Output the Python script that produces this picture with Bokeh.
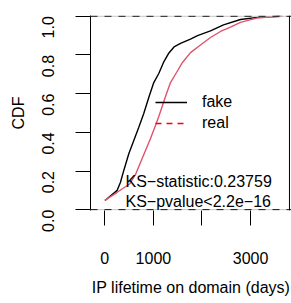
import math
from bokeh.plotting import figure
from bokeh.models import (Range1d, FixedTicker, Span, Legend, LegendItem, Label,
                          PrintfTickFormatter)
from bokeh.embed import file_html
from bokeh.resources import INLINE

# ---- data ----
fake_days = [4, 255, 323, 391, 494, 597, 700, 802, 905, 1008, 1111, 1208, 1311,
             1434, 1558, 1763, 1908, 2175, 2443, 2792, 3142, 3615]
fake_cdf = [0.048, 0.100, 0.142, 0.203, 0.289, 0.358, 0.426, 0.497, 0.580, 0.657,
            0.704, 0.761, 0.807, 0.843, 0.859, 0.882, 0.900, 0.924, 0.955, 0.983,
            0.994, 1.000]

real_days = [0, 255, 515, 632, 735, 838, 941, 1043, 1111, 1167, 1249, 1352, 1476,
             1599, 1764, 1969, 2175, 2381, 2587, 2792, 3143, 3410, 3657]
real_cdf = [0.048, 0.090, 0.134, 0.182, 0.244, 0.306, 0.368, 0.435, 0.482, 0.523,
            0.585, 0.657, 0.709, 0.761, 0.812, 0.851, 0.890, 0.921, 0.944, 0.968,
            0.991, 0.997, 1.000]

x_ticks = [0, 1000, 2000, 3000]
x_tick_labels = {2000: ""}
y_ticks = [0.0, 0.2, 0.4, 0.6, 0.8, 1.0]
series_names = ["fake", "real"]
ks_lines = ["KS\u2212statistic:0.23759", "KS\u2212pvalue<2.2e\u221216"]

FONT = "Liberation Sans"
RED = "#DF536B"
NAN = float("nan")

p = figure(width=291, height=303, output_backend="svg", toolbar_location=None,
           x_range=Range1d(-294, 3842), y_range=Range1d(-0.0041, 1.0036),
           min_border_left=90, min_border_right=0, min_border_top=15,
           min_border_bottom=93)
p.outline_line_color = None
p.xgrid.visible = False
p.ygrid.visible = False
p.background_fill_color = "white"

# reference lines at 0 and 1
for loc in (0.0, 1.0):
    p.add_layout(Span(location=loc, dimension="width", line_color="#bebebe",
                      line_width=1))
    p.add_layout(Span(location=loc, dimension="width", line_color="black",
                      line_width=1, line_dash="7 7"))
# right border
p.add_layout(Span(location=3800, dimension="height", line_color="black",
                  line_width=1))

p.line(fake_days, fake_cdf, line_color="black", line_width=1.4)
p.line(real_days, real_cdf, line_color=RED, line_width=1.4)

# legend glyphs (no visible data)
lf = p.line(x=[NAN], y=[NAN], line_color="black", line_width=1.5)
lr = p.line(x=[NAN], y=[NAN], line_color="red", line_width=1.3, line_dash="6 5")
legend = Legend(items=[LegendItem(label=series_names[0], renderers=[lf]),
                       LegendItem(label=series_names[1], renderers=[lr])],
                location=(65, 78), border_line_color=None,
                background_fill_alpha=0, padding=0, margin=0, spacing=3,
                glyph_width=32, glyph_height=18, label_height=18,
                label_standoff=15, label_text_font=FONT,
                label_text_font_size="16px", label_text_color="black")
p.add_layout(legend)

p.add_layout(Label(x=426, y=0.146, text=ks_lines[0], text_font=FONT,
                   text_font_size="16px", text_color="black",
                   text_baseline="alphabetic", text_align="left"))
p.add_layout(Label(x=426, y=0.042, text=ks_lines[1], text_font=FONT,
                   text_font_size="16px", text_color="black",
                   text_baseline="alphabetic", text_align="left"))

# axes
xa = p.xaxis[0]
xa.ticker = FixedTicker(ticks=x_ticks)
xa.major_label_overrides = x_tick_labels
xa.axis_line_color = None
xa.major_tick_out = 15
xa.major_tick_in = 0
xa.minor_tick_line_color = None
xa.major_tick_line_color = "black"
xa.major_label_standoff = 26
xa.major_label_text_font = FONT
xa.major_label_text_font_size = "16px"
xa.major_label_text_color = "black"
xa.axis_label = "IP lifetime on domain (days)"
xa.axis_label_text_font = FONT
xa.axis_label_text_font_size = "16px"
xa.axis_label_text_font_style = "normal"
xa.axis_label_text_color = "black"
xa.axis_label_standoff = 12

ya = p.yaxis[0]
ya.ticker = FixedTicker(ticks=y_ticks)
ya.formatter = PrintfTickFormatter(format="%.1f")
ya.axis_line_color = "black"
ya.major_tick_out = 15
ya.major_tick_in = 0
ya.minor_tick_line_color = None
ya.major_tick_line_color = "black"
ya.major_label_orientation = math.pi / 2
ya.major_label_standoff = 27
ya.major_label_text_font = FONT
ya.major_label_text_font_size = "16px"
ya.major_label_text_color = "black"
ya.axis_label = "CDF"
ya.axis_label_text_font = FONT
ya.axis_label_text_font_size = "16px"
ya.axis_label_text_font_style = "normal"
ya.axis_label_text_color = "black"
ya.axis_label_standoff = 7

open("out.html", "w").write(file_html(p, INLINE))
